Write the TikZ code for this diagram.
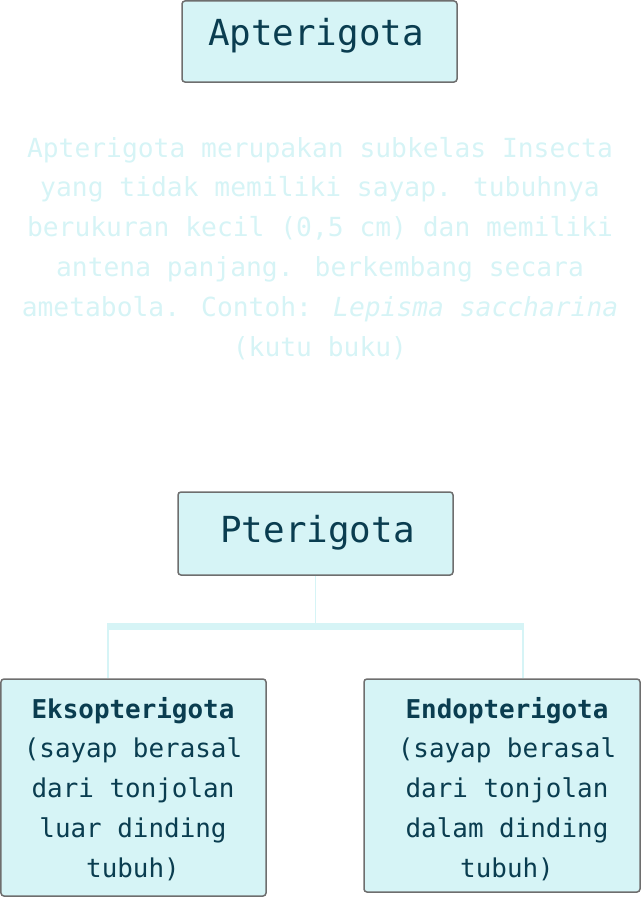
\documentclass[tikz,border=0pt]{standalone}
\usepackage{fontspec}
\setmainfont{DejaVu Sans Mono}[BoldFont={DejaVu Sans Mono Bold},ItalicFont={DejaVu Sans Mono Oblique},BoldItalicFont={DejaVu Sans Mono Bold Oblique}]
\definecolor{boxfill}{HTML}{D6F4F6}
\definecolor{boxline}{HTML}{6E6E6E}
\definecolor{ink}{HTML}{0A3D50}
\definecolor{pale}{HTML}{D6F4F6}
\tikzset{
  box/.style={draw=boxline,fill=boxfill,line width=1.5bp,rounded corners=3bp,inner sep=0pt,rectangle},
  bigtxt/.style={anchor=base,inner sep=0pt,text=ink,font=\fontsize{36}{40}\selectfont},
  smalltxt/.style={anchor=north,inner sep=0pt,align=center,text=ink,font=\fontsize{26}{40}\selectfont},
  desctxt/.style={anchor=north,inner sep=0pt,align=center,text=pale,font=\fontsize{26.4}{40}\selectfont},
  link/.style={draw=pale,line width=1.6bp},
}
\begin{document}
\begin{tikzpicture}[x=1bp,y=-1bp]
\useasboundingbox (0,0) rectangle (642,898);
% boxes
\node[box,minimum width=275bp,minimum height=81bp] (ap) at (319.5,41.5) {};
\node[box,minimum width=275bp,minimum height=83bp] (pt) at (315.5,533.5) {};
\node[box,minimum width=265bp,minimum height=217bp] (ek) at (133.5,787.5) {};
\node[box,minimum width=276bp,minimum height=213bp] (en) at (502,785.5) {};
% titles
\node[bigtxt] (aptxt) at (316,45) {Apterigota};
\node[bigtxt] (pttxt) at (317.5,542) {Pterigota};
% description
\node[desctxt] (desc) at (320,129) {\strut Apterigota merupakan subkelas Insecta\\
yang tidak memiliki sayap. tubuhnya\\
berukuran kecil (0,5 cm) dan memiliki\\
antena panjang. berkembang secara\\
ametabola. Contoh: \textit{Lepisma saccharina}\\
(kutu buku)};
% bottom texts
\node[smalltxt] (ektxt) at (133,690) {\strut\textbf{Eksopterigota}\\
(sayap berasal\\
dari tonjolan\\
luar dinding\\
tubuh)};
\node[smalltxt] (entxt) at (507,690) {\strut\textbf{Endopterigota}\\
(sayap berasal\\
dari tonjolan\\
dalam dinding\\
tubuh)};
% connectors
\coordinate (barL) at (108,626);
\coordinate (barR) at (523,626);
\draw[draw=pale,line width=7bp] ([xshift=-1bp]barL) -- ([xshift=1bp]barR);
\draw[link] (pt.south) -- (pt.south |- barL);
\draw[link] (barL) -- (barL |- ek.north);
\draw[link] (barR) -- (barR |- en.north);
\end{tikzpicture}
\end{document}
